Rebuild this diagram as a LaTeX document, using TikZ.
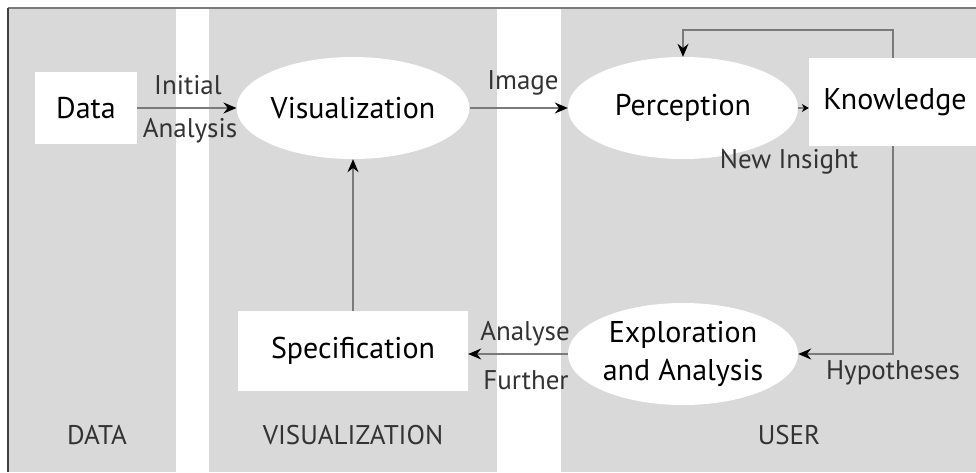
\documentclass[tikz,border=0pt]{standalone}
\usepackage{fontspec}
\setmainfont{PT Sans}
\usetikzlibrary{arrows.meta,shapes.geometric,calc}
\definecolor{panel}{HTML}{D9D9D9}
\definecolor{linegrey}{HTML}{7A7A7A}
\begin{document}
\begin{tikzpicture}[x=1pt,y=-1pt,
  main/.style={font=\fontsize{30}{38}\selectfont, text=black, inner sep=0pt},
  lbl/.style={font=\fontsize{27}{30}\selectfont, text=black!80, inner sep=0pt},
  boxnode/.style={main, fill=white, rectangle, align=center},
  ellnode/.style={main, fill=white, ellipse, minimum width=230pt, minimum height=102pt, align=center},
  conn/.style={draw=linegrey, line width=1.3pt, -{Stealth[length=13pt,width=11pt,color=black,fill=black]}},
  smallconn/.style={draw=linegrey, line width=1.3pt, -{Stealth[length=7pt,width=8pt,color=black,fill=black]}}
]
\useasboundingbox (0,0) rectangle (976,472);
% panels
\fill[panel] (8,8) rectangle (176,472);
\fill[panel] (209,8) rectangle (497,472);
\fill[panel] (561,8) rectangle (976,472);
\draw[linegrey, line width=1.3pt] (8,8) -- (976,8);
\draw[black!75, line width=1.3pt] (8,8) -- (8,472);

% nodes
\node[boxnode, minimum width=102pt, minimum height=72pt] (data) at (86,108) {Data};
\node[ellnode] (vis) at (353,108) {Visualization};
\node[ellnode] (perc) at (683,108) {Perception};
\node[boxnode, minimum width=172pt, minimum height=88pt] (know) at (895,102) {Knowledge};
\node[ellnode] (expl) at (683,354) {Exploration\\and Analysis};
\node[boxnode, minimum width=230pt, minimum height=80pt] (spec) at (353,351) {Specification};

% connectors
\draw[conn] (data.east) -- (vis.west);
\draw[conn] (vis.east) -- (perc.west);
\draw[smallconn] (perc.east) -- (perc.east -| know.west);
\coordinate (kt) at (893,30);
\coordinate (kb) at (893,354);
\draw[conn] (kt |- know.north) -- (kt) -- (kt -| perc.north) -- (perc.north);
\draw[conn] (kt |- know.south) -- (kb) -- (expl.east);
\draw[conn] (expl.west) -- (expl.west -| spec.east);
\draw[conn] (spec.north) -- (vis.south);

% labels
\node[lbl] (l1) at (188,85) {Initial};
\node[lbl] (l2) at (190,131) {Analysis};
\node[lbl] (l3) at (523,83) {Image};
\node[lbl] (l4) at (789,162) {New Insight};
\node[lbl] (l5) at (893,373) {Hypotheses};
\node[lbl] (l6) at (525,334) {Analyse};
\node[lbl] (l7) at (526,380) {Further};
\node[lbl] (p1) at (97,435) {DATA};
\node[lbl] (p2) at (353,435) {VISUALIZATION};
\node[lbl] (p3) at (789,435) {USER};
\end{tikzpicture}
\end{document}
